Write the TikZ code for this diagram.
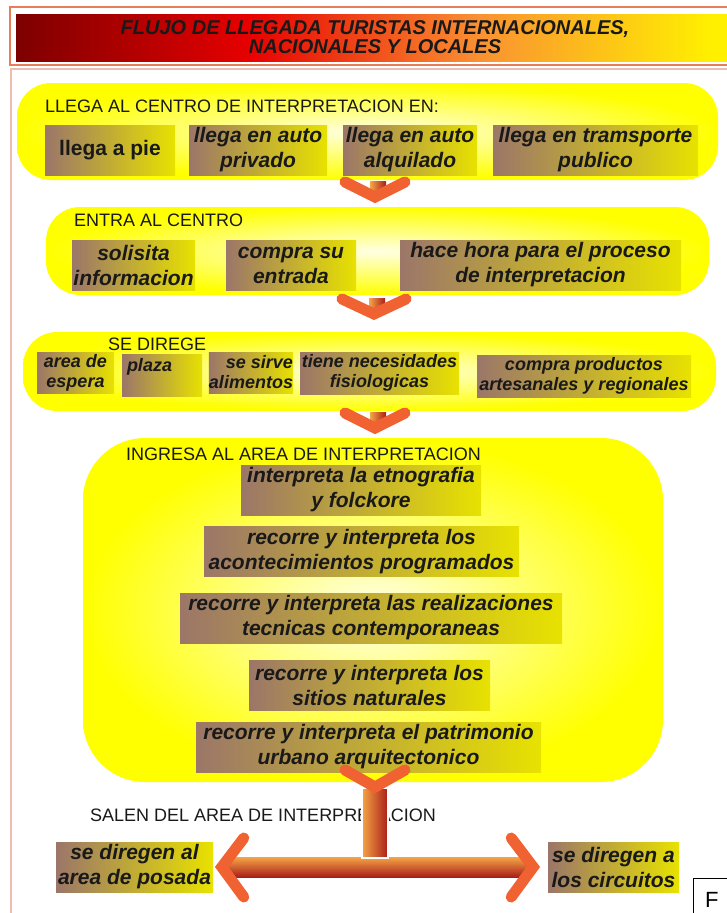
\documentclass[tikz,border=0pt]{standalone}
\usepackage{fontspec}
\setmainfont{Liberation Sans}
\usepackage{tikz}
\usetikzlibrary{positioning,calc}

\definecolor{inktext}{RGB}{25,25,25}
\definecolor{boxbrown}{RGB}{155,118,105}
\definecolor{boxyellow}{RGB}{232,226,0}
\definecolor{stageyellow}{RGB}{255,255,0}
\definecolor{stagelight}{RGB}{255,255,228}
\definecolor{chevorange}{RGB}{240,98,50}
\definecolor{barorange}{RGB}{245,165,70}
\definecolor{barred}{RGB}{170,30,25}
\definecolor{frameline}{RGB}{232,125,90}
\definecolor{framepale}{RGB}{235,190,175}
\definecolor{titledark}{RGB}{125,0,0}
\definecolor{titlered}{RGB}{230,0,0}
\definecolor{titleorange}{RGB}{250,145,50}
\definecolor{titleyellow}{RGB}{255,240,0}

\pgfdeclarehorizontalshading{titlebar}{100bp}{color(0bp)=(titledark); color(25bp)=(titledark); color(41bp)=(titlered); color(57bp)=(titleorange); color(73bp)=(titleyellow); color(100bp)=(titleyellow)}

\begin{document}
\begin{tikzpicture}[x=1pt, y=-1pt,
    stage/.style={rectangle, rounded corners=34pt, inner sep=0pt, inner color=stagelight, outer color=stageyellow},
    head/.style={anchor=west, inner sep=0pt, text=inktext, font=\fontsize{18}{20}\selectfont},
    box/.style={rectangle, inner sep=0pt, left color=boxbrown, right color=boxyellow, align=center, text=inktext, font=\bfseries\itshape\fontsize{21}{25}\selectfont},
    smallbox/.style={box, font=\bfseries\itshape\fontsize{18}{20}\selectfont},
    knob/.style={rectangle, inner sep=0pt, minimum width=16, minimum height=15, left color=barorange, right color=barred},
    chev/.style={draw=chevorange, line width=11pt, line cap=round, line join=miter}
]
\useasboundingbox (0,0) rectangle (727,913);
\fill[white] (0,0) rectangle (727,913);
\clip (0,0) rectangle (727,913);

% Title
\draw[frameline, line width=2pt] (10,7) rectangle (740,65);
\shade[shading=titlebar] (16,14) rectangle (740,61);
\node[font=\bfseries\itshape\fontsize{20}{19}\selectfont, text=inktext, align=center] (title) at (375,37) {FLUJO DE LLEGADA TURISTAS INTERNACIONALES,\\NACIONALES Y LOCALES};
\draw[framepale, line width=1.2pt] (11,69) rectangle (740,930);

% Stage 1
\node[stage, minimum width=701, minimum height=97] (s1) at (367.5,131.5) {};
\node[head] (h1) at (45,106) {LLEGA AL CENTRO DE INTERPRETACION EN:};
\node[box, minimum width=130, minimum height=50, font=\bfseries\fontsize{21}{25}\selectfont] (pie) at (110,150) {llega a pie};
\node[box, minimum width=138, minimum height=50] (privado) at (258,150) {llega en auto\\privado};
\node[box, minimum width=134, minimum height=50] (alquilado) at (410,150) {llega en auto\\alquilado};
\node[box, minimum width=205, minimum height=50] (publico) at (595.5,150) {llega en tramsporte\\publico};

% Stage 2
\node[stage, minimum width=663, minimum height=88] (s2) at (377.5,251) {};
\node[head] (h2) at (74,220) {ENTRA AL CENTRO};
\node[box, minimum width=123, minimum height=50] (info) at (133.5,265) {solisita\\informacion};
\node[box, minimum width=130, minimum height=50] (entrada) at (291,265) {compra su\\entrada};
\node[box, minimum width=281, minimum height=50] (hora) at (540.5,265) {hace hora para el proceso\\de interpretacion};

% Stage 3
\node[stage, minimum width=693, minimum height=79] (s3) at (369.5,371.5) {};
\node[head] (h3) at (108,344) {SE DIREGE};
\node[smallbox, minimum width=77, minimum height=41] (espera) at (75.5,372.5) {area de\\espera};
\node[smallbox, minimum width=80, minimum height=42, align=left, text width=70] (plaza) at (162,375) {plaza\\~};
\node[smallbox, minimum width=82, minimum height=41, align=right] (alimentos) at (251,372.5) {se sirve\\alimentos};
\node[smallbox, minimum width=159, minimum height=42] (fisio) at (379.5,373) {tiene necesidades\\fisiologicas};
\node[smallbox, minimum width=214, minimum height=42] (artesanal) at (584,376) {compra productos\\artesanales y regionales};

% Stage 4
\node[stage, rounded corners=62pt, minimum width=580, minimum height=344] (s4) at (373,610) {};
\node[head] (h4) at (126,454) {INGRESA AL AREA DE INTERPRETACION};
\node[box, minimum width=240, minimum height=50] (etno) at (361,490) {interpreta la etnografia\\y folckore};
\node[box, minimum width=315, minimum height=50] (acon) at (361.5,551.5) {recorre y interpreta los\\acontecimientos programados};
\node[box, minimum width=382, minimum height=50] (tecnica) at (371,618) {recorre y interpreta las realizaciones\\tecnicas contemporaneas};
\node[box, minimum width=241, minimum height=50] (sitios) at (369.5,685) {recorre y interpreta los\\sitios naturales};
\node[box, minimum width=345, minimum height=50] (urbano) at (368.5,747) {recorre y interpreta el patrimonio\\urbano arquitectonico};

% Chevrons between stages
\coordinate (v1) at (375,197);
\coordinate (v2) at (374,314);
\coordinate (v3) at (375,428);
\coordinate (v4) at (375,787);
\node[knob] (k1) at (378,189) {};
\node[knob] (k2) at (377,306) {};
\node[knob] (k3) at (378,420) {};
\draw[chev] ($(v1)+(-30,-15)$) -- (v1) -- ($(v1)+(30,-15)$);
\draw[chev] ($(v2)+(-32,-15)$) -- (v2) -- ($(v2)+(32,-15)$);
\draw[chev] ($(v3)+(-30,-15)$) -- (v3) -- ($(v3)+(30,-15)$);

% Exit
\node[head] (h5) at (90,815) {SALEN DEL AREA DE INTERPRETACION};
\node[box, minimum width=157, minimum height=50] (posada) at (134.5,867) {se diregen al\\area de posada};
\node[box, minimum width=131, minimum height=50] (circuitos) at (613.5,867) {se diregen a\\los circuitos};
\node[rectangle, inner sep=0pt, minimum width=305, minimum height=20, top color=barorange, bottom color=barred] (bar) at (377.5,867) {};
\node[rectangle, inner sep=0pt, minimum width=26, minimum height=70, left color=barorange, right color=barred, draw=white, line width=1.5pt] (stem) at (375,823) {};
\draw[chev] ($(v4)+(-30,-17)$) -- (v4) -- ($(v4)+(30,-17)$);
\draw[chev] ($(bar.west)+(19,-29)$) -- ($(bar.west)+(-3,0)$) -- ($(bar.west)+(19,30)$);
\draw[chev] ($(bar.east)+(-19,-29)$) -- ($(bar.east)+(3,0)$) -- ($(bar.east)+(-19,30)$);

% Corner note
\node[draw=black, line width=1pt, anchor=north west, minimum width=80, minimum height=60] (note) at (693,878) {};
\node[anchor=north west, inner sep=0pt, font=\fontsize{22}{22}\selectfont] (noteF) at (705,892) {F};

\end{tikzpicture}
\end{document}
